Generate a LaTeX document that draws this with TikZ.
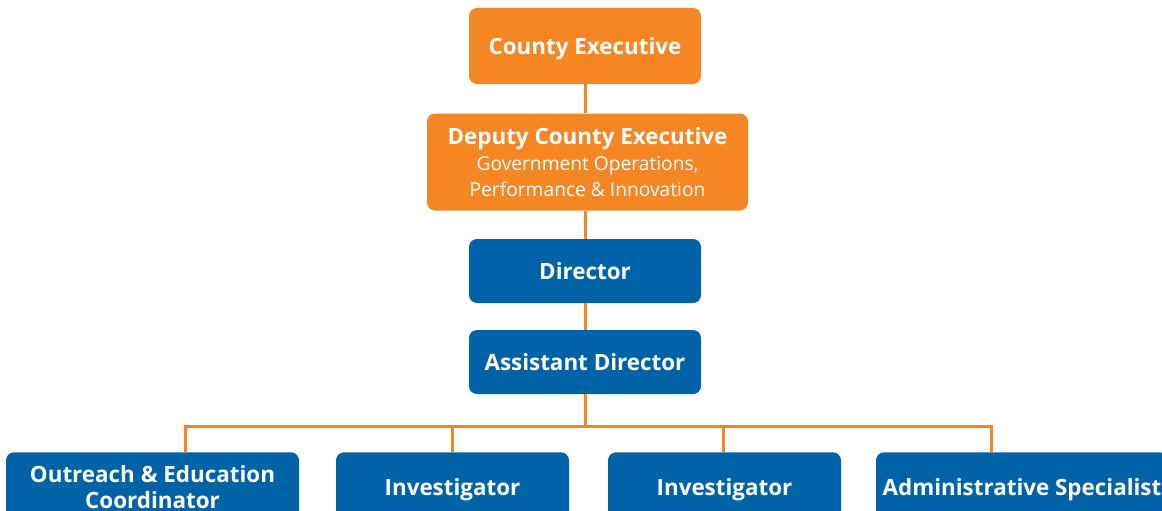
\documentclass[tikz,border=0pt]{standalone}
\usepackage{fontspec}
\setmainfont{Open Sans}
\definecolor{corange}{RGB}{244,134,36}
\definecolor{cblue}{RGB}{0,99,167}
\begin{document}
\begin{tikzpicture}[x=0.75pt,y=-0.75pt,
  box/.style={rounded corners=6pt,inner sep=0pt,align=center,text=white,text depth=0pt,font=\bfseries\fontsize{16.8}{19}\selectfont},
  obox/.style={box,fill=corange},
  bbox/.style={box,fill=cblue},
  conn/.style={draw=corange,line width=2.25pt}]
\useasboundingbox (0,0) rectangle (1162,510);
\clip (0,0) rectangle (1162,510);
\node[obox,minimum width=174pt,minimum height=57pt] (ce) at (585,46) {County Executive};
\node[obox,minimum width=240.75pt,minimum height=72.75pt,font=\bfseries\fontsize{16.8}{19.5}\selectfont] (dce) at (587.5,162)
  {Deputy County Executive\\{\mdseries\fontsize{14.4}{19.5}\selectfont Government Operations,}\\{\mdseries\fontsize{14.4}{19.5}\selectfont Performance \& Innovation}};
\node[bbox,minimum width=174pt,minimum height=48pt] (dir) at (585,271) {Director};
\node[bbox,minimum width=174pt,minimum height=48pt] (ad) at (585,362) {Assistant Director};
\node[bbox,minimum width=219.75pt,minimum height=52pt] (b1) at (152.5,487) {Outreach \& Education\\Coordinator};
\node[bbox,minimum width=174.75pt,minimum height=52pt] (b2) at (452.5,487) {Investigator};
\node[bbox,minimum width=174.75pt,minimum height=52pt] (b3) at (724.5,487) {Investigator};
\node[bbox,minimum width=219pt,minimum height=52pt] (b4) at (1022,487) {Administrative Specialist};
\coordinate (bus) at (585,426);
\coordinate (l1) at (185,426);
\coordinate (l2) at (452.5,426);
\coordinate (l3) at (723,426);
\coordinate (l4) at (991,426);
\draw[conn] (ce.south) -- (ce.south |- dce.north);
\draw[conn] (dce.south -| dir.north) -- (dir.north);
\draw[conn] (dir.south) -- (ad.north);
\draw[conn] (ad.south) -- (bus);
\draw[conn,line cap=rect] (l1) -- (l4);
\draw[conn] (l1) -- (l1 |- b1.north);
\draw[conn] (l2) -- (l2 |- b2.north);
\draw[conn] (l3) -- (l3 |- b3.north);
\draw[conn] (l4) -- (l4 |- b4.north);
\end{tikzpicture}
\end{document}
